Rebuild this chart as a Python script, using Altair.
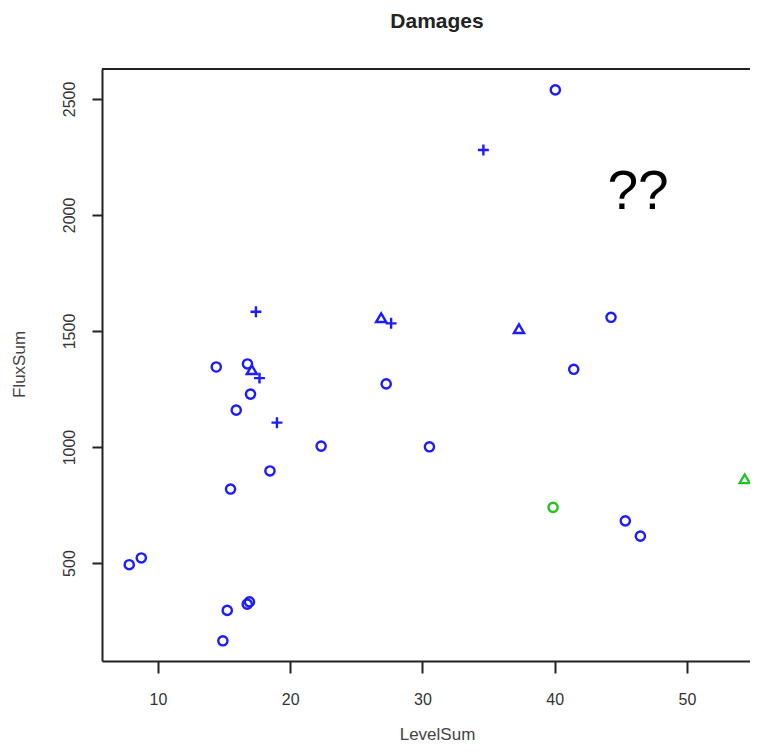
import altair as alt
import pandas as pd

# ---- data ----
level_sum = [40.05, 44.26, 41.44, 27.26, 14.41, 16.77, 17.00, 15.92, 22.34, 30.53,
             18.47, 15.49, 8.74, 7.83, 16.92, 16.75, 15.24, 14.91, 45.34, 46.48,
             39.88, 54.37,
             26.88, 37.30, 17.10,
             34.61, 17.41, 27.63, 17.68, 19.00]
flux_sum = [2539, 1559, 1335, 1272, 1345, 1358, 1228, 1159, 1004, 1001,
            897, 819, 522, 493, 333, 323, 296, 165, 682, 616,
            740, 862,
            1556, 1509, 1332,
            2280, 1583, 1533, 1297, 1105]
marker = (["circle"] * 20 + ["circle", "triangle"] + ["triangle"] * 3 + ["cross"] * 5)
colour_group = (["blue"] * 20 + ["green", "green"] + ["blue"] * 3 + ["blue"] * 5)

marker_kinds = ["circle", "triangle", "cross"]
marker_paths = ["circle", "M0,-0.9L1,0.8L-1,0.8Z", "M-1,0H1M0,-1V1"]
marker_sizes = [85, 120, 200]
group_kinds = ["blue", "green"]
group_colours = ["#1c1cff", "#22c422"]

x_ticks = [10, 20, 30, 40, 50]
y_ticks = [500, 1000, 1500, 2000, 2500]

note_x = [46.3]
note_y = [2099]
note_text = ["??"]

title_text = ["Damages"]

df = pd.DataFrame({"LevelSum": level_sum, "FluxSum": flux_sum,
                   "marker": marker, "group": colour_group})
notes = pd.DataFrame({"LevelSum": note_x, "FluxSum": note_y, "label": note_text})
titles = pd.DataFrame({"label": title_text})

W, H = 648, 592
FONT = "Liberation Sans"
x_scale = alt.Scale(domain=[5.77, 54.77], nice=False, zero=False)
y_scale = alt.Scale(domain=[78, 2629], nice=False, zero=False)

x_axis = alt.Axis(values=x_ticks, format="d", title="LevelSum", grid=False,
                  tickSize=12, tickWidth=2, tickColor="#222",
                  domainColor="#222", domainWidth=2,
                  labelPadding=18, labelFontSize=16, labelFont=FONT, labelColor="#333",
                  titleFont=FONT, titleFontSize=17, titleFontWeight="normal", titleColor="#444",
                  titleX=335, titleY=78, titleBaseline="alphabetic", titleAlign="center")
y_axis = alt.Axis(values=y_ticks, format="d", title="FluxSum", grid=False,
                  tickSize=10, tickWidth=2, tickColor="#222",
                  domainColor="#222", domainWidth=2,
                  labelAngle=270, labelAlign="center", labelBaseline="alphabetic",
                  labelPadding=18, labelFontSize=16, labelFont=FONT, labelColor="#333",
                  titleFont=FONT, titleFontSize=17, titleFontWeight="normal", titleColor="#444",
                  titleAngle=270, titleX=-78, titleY=295, titleBaseline="alphabetic",
                  titleAlign="center")

frame_top = alt.Chart(df).mark_rule(color="#222", strokeWidth=2).encode(
    x=alt.value(0), x2=alt.value(W), y=alt.value(0))

points = alt.Chart(df).mark_point(filled=False, strokeWidth=2.4, opacity=1).encode(
    x=alt.X("LevelSum:Q", scale=x_scale, axis=x_axis),
    y=alt.Y("FluxSum:Q", scale=y_scale, axis=y_axis),
    shape=alt.Shape("marker:N", scale=alt.Scale(domain=marker_kinds, range=marker_paths), legend=None),
    size=alt.Size("marker:N", scale=alt.Scale(domain=marker_kinds, range=marker_sizes), legend=None),
    color=alt.Color("group:N", scale=alt.Scale(domain=group_kinds, range=group_colours), legend=None),
)

note = alt.Chart(notes).mark_text(fontSize=55, font=FONT, color="#000",
                                  align="center", baseline="middle").encode(
    x=alt.X("LevelSum:Q", scale=x_scale),
    y=alt.Y("FluxSum:Q", scale=y_scale),
    text="label:N")

title = alt.Chart(titles).mark_text(fontSize=21, font=FONT, fontWeight="bold",
                                    color="#222", align="center",
                                    baseline="alphabetic").encode(
    x=alt.value(335), y=alt.value(-41), text="label:N")

chart = alt.layer(frame_top, points, note, title).properties(
    width=W, height=H,
    autosize=alt.AutoSizeParams(type="none"),
    padding={"left": 94, "top": 61, "right": 0, "bottom": 83},
).configure_view(stroke=None).configure(background="white")

chart.save("out.html", embed_options={"renderer": "svg", "actions": False})
